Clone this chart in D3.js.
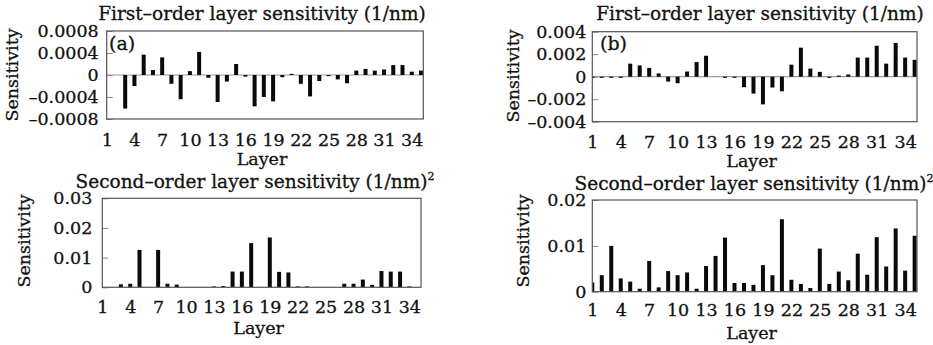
<!DOCTYPE html>
<html><head><meta charset="utf-8">
<script src="https://cdn.jsdelivr.net/npm/d3@7"></script>
<style>
html,body{margin:0;padding:0;background:#fff;}
svg{display:block;font-family:"DejaVu Serif",serif;}
svg text{stroke:#111;stroke-width:0.3px;}
</style></head>
<body><svg id="chart" width="933" height="345"></svg>
<script>
// ---- data ----
const layers = [1,2,3,4,5,6,7,8,9,10,11,12,13,14,15,16,17,18,19,20,21,22,23,24,25,26,27,28,29,30,31,32,33,34,35];
const layerTicks = [1,4,7,10,13,16,19,22,25,28,31,34];

const firstOrderA = [0,0,-0.00061,-0.0002,0.00037,0.00009,0.00032,-0.00016,-0.00044,0.00007,0.00042,-0.00005,-0.00049,-0.00012,0.0002,-0.00003,-0.00057,-0.0004,-0.00048,-0.00004,0.00002,-0.00016,-0.00039,-0.00011,-0.00002,-0.00008,-0.00015,0.00008,0.00011,0.00008,0.0001,0.00018,0.00018,0.00006,0.00008];
const firstOrderB = [-0.0001,-0.0001,-0.0001,-0.0001,0.00116,0.001,0.00078,0.00029,-0.00043,-0.00058,0.00046,0.0013,0.00186,0,-0.0001,-0.0001,-0.00093,-0.0015,-0.00246,-0.00096,-0.0013,0.00107,0.00258,0.00072,0.00043,-0.0001,0.0001,0.0002,0.0017,0.0017,0.00275,0.00116,0.003,0.0017,0.0015];
const secondOrderC = [0,0,0.001,0.0012,0.0126,0,0.0126,0.0012,0.0009,0,0,0,0.0003,0.0004,0.0053,0.0053,0.0149,0,0.0168,0.0052,0.005,0.0003,0.0003,0,0,0,0.0012,0.0012,0.0026,0.0008,0.0055,0.0053,0.0053,0.0003,0];
const secondOrderD = [0.002,0.0036,0.01,0.0029,0.0022,0.00065,0.0067,0.00095,0.0045,0.0036,0.0042,0.00065,0.0056,0.0078,0.0118,0.0019,0.0019,0.0015,0.0058,0.0036,0.0158,0.0026,0.0017,0.0008,0.0094,0.0017,0.0044,0.0025,0.0083,0.0037,0.0119,0.0055,0.0138,0.0046,0.0122];

const yTicksA = [-0.0008,-0.0004,0,0.0004,0.0008];
const yLabelsA = ["–0.0008","–0.0004","0","0.0004","0.0008"];
const yTicksB = [-0.004,-0.002,0,0.002,0.004];
const yLabelsB = ["–0.004","–0.002","0","0.002","0.004"];
const yTicksC = [0,0.01,0.02,0.03];
const yLabelsC = ["0","0.01","0.02","0.03"];
const yTicksD = [0,0.01,0.02];
const yLabelsD = ["0","0.01","0.02"];

const titleFirst = "First–order layer sensitivity (1/nm)";
const titleSecond = "Second–order layer sensitivity (1/nm)";
const xTitle = "Layer";
const yTitle = "Sensitivity";

// ---- layout ----
const panels = [
  {values:firstOrderA, ticks:yTicksA, labels:yLabelsA, dom:[-0.0008,0.0008], x0:106.7, x1:423.3, y0:31, y1:119,
   title:titleFirst, sup:false, tx:262, ty:20, tag:"(a)", tagX:109, tagY:50, xlb:146, xtb:165, ylx:18, yly:75, lblGap:8, zero:true},
  {values:firstOrderB, ticks:yTicksB, labels:yLabelsB, dom:[-0.004,0.004], x0:592.3, x1:917, y0:31.7, y1:121.7,
   title:titleFirst, sup:false, tx:760, ty:20, tag:"(b)", tagX:600, tagY:50, xlb:148, xtb:166.5, ylx:519, yly:76, lblGap:6, zero:true},
  {values:secondOrderC, ticks:yTicksC, labels:yLabelsC, dom:[0,0.03], x0:102.3, x1:421, y0:198.3, y1:287.3,
   title:titleSecond, sup:true, tx:255, ty:188, tag:null, xlb:312.5, xtb:333.5, ylx:29.5, yly:241, lblGap:10, zero:false},
  {values:secondOrderD, ticks:yTicksD, labels:yLabelsD, dom:[0,0.02], x0:592.3, x1:917, y0:200, y1:291.7,
   title:titleSecond, sup:true, tx:754, ty:190, tag:null, xlb:316, xtb:338.5, ylx:529, yly:241, lblGap:6, zero:false}
];

const svg = d3.select("#chart");
const FS = 17.5;

panels.forEach((p, k) => {
  const x = d3.scaleLinear().domain([1, 35.25]).range([p.x0, p.x1]);
  const y = d3.scaleLinear().domain(p.dom).range([p.y1, p.y0]);
  const g = svg.append("g");

  g.append("clipPath").attr("id", "clip" + k)
    .append("rect").attr("x", p.x0).attr("y", p.y0).attr("width", p.x1 - p.x0).attr("height", p.y1 - p.y0);

  if (p.zero) {
    g.append("line").attr("x1", p.x0).attr("x2", p.x1).attr("y1", y(0)).attr("y2", y(0))
      .attr("stroke", "#9a9a9a").attr("stroke-width", 1.2);
  }

  const yAxis = d3.axisLeft(y).tickValues(p.ticks).tickFormat((d, i) => p.labels[i])
    .tickSizeInner(-6).tickSizeOuter(0).tickPadding(p.lblGap);
  const ya = g.append("g").attr("transform", `translate(${p.x0},0)`).call(yAxis);
  ya.select(".domain").remove();
  ya.selectAll("line").attr("stroke", "#888");
  ya.selectAll("text").attr("font-size", FS).attr("fill", "#111").attr("font-family", "DejaVu Serif");

  const bw = 4;
  g.append("g").attr("clip-path", `url(#clip${k})`)
    .selectAll("rect").data(layers.map((l, i) => ({l, v: p.values[i]})))
    .join("rect")
    .attr("x", d => x(d.l) - bw / 2)
    .attr("width", bw)
    .attr("y", d => Math.min(y(d.v), y(0)))
    .attr("height", d => Math.abs(y(d.v) - y(0)))
    .attr("fill", "#0a0a0a");

  g.append("rect").attr("x", p.x0).attr("y", p.y0).attr("width", p.x1 - p.x0).attr("height", p.y1 - p.y0)
    .attr("fill", "none").attr("stroke", "#555").attr("stroke-width", 1.2);

  const xAxis = d3.axisBottom(x).tickValues(layerTicks).tickFormat(d3.format("d")).tickSize(0).tickPadding(0);
  const xa = g.append("g").attr("transform", `translate(0,${p.xlb})`).call(xAxis);
  xa.select(".domain").remove();
  xa.selectAll("text").attr("dy", null).attr("y", 0).attr("font-size", FS).attr("fill", "#111").attr("font-family", "DejaVu Serif");

  g.append("text").attr("x", (p.x0 + p.x1) / 2 - 3).attr("y", p.xtb).attr("text-anchor", "middle")
    .attr("font-size", FS).attr("fill", "#111").text(xTitle);

  g.append("text").attr("transform", `translate(${p.ylx},${p.yly}) rotate(-90)`).attr("text-anchor", "middle")
    .attr("font-size", FS).attr("fill", "#111").text(yTitle);

  const t = g.append("text").attr("x", p.tx).attr("y", p.ty).attr("text-anchor", "middle")
    .attr("font-size", 18.5).attr("fill", "#111").text(p.title);
  if (p.sup) {
    t.append("tspan").attr("font-size", 11).attr("dy", -8).text("2");
  }

  if (p.tag) {
    g.append("text").attr("x", p.tagX).attr("y", p.tagY).attr("font-size", 19).attr("fill", "#111").text(p.tag);
  }
});
</script></body></html>
